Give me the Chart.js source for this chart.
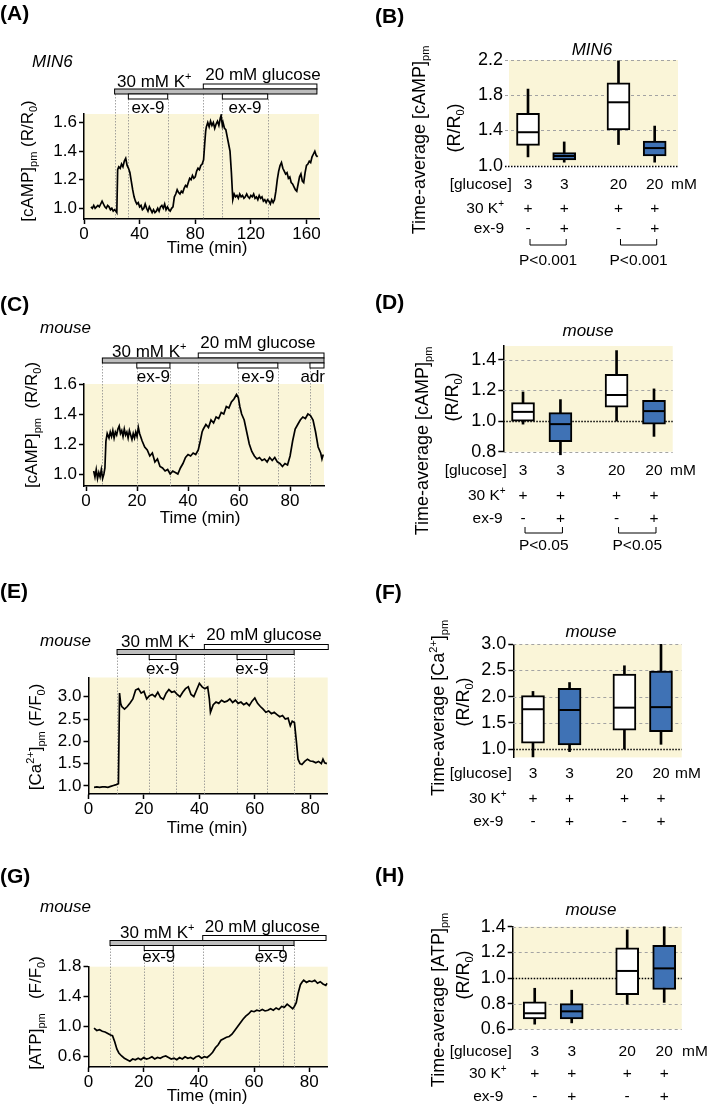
<!DOCTYPE html>
<html>
<head>
<meta charset="utf-8">
<script src="https://cdn.jsdelivr.net/npm/chart.js@4.4.1/dist/chart.umd.min.js"></script>
<style>
  html, body { margin: 0; padding: 0; background: #fff; }
  #wrap { position: relative; width: 709px; height: 1109px; overflow: hidden; }
  #wrap canvas { position: absolute; left: 0; top: 0; }
</style>
</head>
<body>
<div id="wrap">
  <canvas id="cA" width="709" height="1109"></canvas>
  <canvas id="cB" width="709" height="1109"></canvas>
  <canvas id="cC" width="709" height="1109"></canvas>
  <canvas id="cD" width="709" height="1109"></canvas>
  <canvas id="cE" width="709" height="1109"></canvas>
  <canvas id="cF" width="709" height="1109"></canvas>
  <canvas id="cG" width="709" height="1109"></canvas>
  <canvas id="cH" width="709" height="1109"></canvas>
</div>
<script>
// ---- traces: [time (min), value] ----
const traceA = [[5,1.01],[6,1.00],[7,1.02],[8,1.00],[9,1.01],[10,1.02],[11,1.01],[12,1.03],[13,1.05],[14,1.03],
  [15,1.01],[16,1.00],[17,1.02],[18,1.01],[19,0.99],[20,1.00],[21,0.98],[22,0.99],[23,0.98],[23.6,0.97],
  [24.2,1.27],[25,1.29],[26,1.28],[27,1.31],[28,1.29],[29,1.33],[30,1.35],[31,1.30],[32,1.28],[33,1.25],
  [34,1.19],[35,1.13],[36,1.08],[37,1.05],[38,1.03],[39,1.04],[40,1.01],[41,1.02],[42,0.99],[43,1.00],
  [44,1.03],[45,1.00],[46,0.98],[47,1.01],[48,0.99],[49,0.97],[50,0.99],[51,0.97],[52,0.98],[53,1.00],
  [54,0.98],[55,1.01],[56,1.02],[57,1.00],[58,1.03],[59,0.99],[60,1.01],[61,0.99],[62,0.98],[63,1.00],
  [64,1.01],[65,1.08],[66,1.10],[67,1.13],[68,1.11],[69,1.10],[70,1.12],[71,1.11],[72,1.14],[73,1.16],
  [74,1.15],[75,1.18],[76,1.21],[77,1.20],[78,1.23],[79,1.21],[80,1.22],[81,1.26],[82,1.28],[83,1.27],
  [84,1.30],[85,1.31],[86,1.34],[86.8,1.45],[87.5,1.54],[88,1.57],[89,1.60],[90,1.57],[91,1.61],[92,1.58],
  [93,1.60],[94,1.56],[95,1.59],[96,1.61],[97,1.58],[98,1.63],[98.6,1.65],[99.5,1.58],[100,1.60],[101,1.56],
  [102,1.55],[103,1.50],[104,1.45],[105,1.40],[106,1.25],[107,1.06],[108,1.10],[109,1.08],[110,1.09],[111,1.07],
  [112,1.10],[113,1.08],[114,1.09],[115,1.07],[116,1.08],[117,1.10],[118,1.08],[119,1.07],[120,1.09],[121,1.08],
  [122,1.10],[123,1.07],[124,1.08],[125,1.06],[126,1.09],[127,1.07],[128,1.08],[129,1.05],[130,1.06],[131,1.04],
  [132,1.06],[133,1.05],[134,1.03],[135,1.06],[136,1.04],[137,1.06],[138,1.12],[139,1.20],[140,1.26],[141,1.30],
  [142,1.32],[143,1.28],[144,1.26],[145,1.24],[146,1.25],[147,1.21],[148,1.22],[149,1.18],[150,1.17],[151,1.15],
  [152,1.13],[153,1.12],[154,1.17],[155,1.22],[156,1.24],[157,1.19],[158,1.18],[159,1.25],[160,1.30],[161,1.31],
  [162,1.33],[163,1.32],[164,1.36],[165,1.38],[166,1.40],[167,1.37],[168,1.36]];

const traceC = [[3,1.02],[3.5,0.98],[4,1.03],[4.5,0.97],[5,1.01],[5.5,0.98],[6,1.03],[6.5,0.97],[7,1.00],[7.4,1.04],
  [7.8,1.22],[8.3,1.27],[9,1.24],[9.5,1.28],[10,1.25],[10.5,1.29],[11,1.24],[11.5,1.28],[12,1.26],[12.5,1.30],
  [13,1.32],[13.5,1.27],[14,1.29],[14.5,1.25],[15,1.30],[15.5,1.26],[16,1.28],[16.5,1.24],[17,1.29],[17.5,1.26],
  [18,1.23],[18.5,1.27],[19,1.24],[19.5,1.28],[20,1.25],[20.5,1.31],[21,1.27],[22,1.22],[23,1.18],[24,1.16],
  [25,1.12],[26,1.14],[27,1.08],[28,1.10],[29,1.05],[30,1.04],[31,1.02],[32,1.03],[33,1.00],[34,1.02],
  [35,1.01],[36,1.00],[37,1.04],[38,1.07],[39,1.11],[40,1.13],[41,1.12],[42,1.14],[43,1.13],[44,1.16],
  [44.8,1.22],[45.5,1.28],[46,1.30],[47,1.33],[48,1.31],[49,1.36],[50,1.34],[51,1.38],[52,1.37],[53,1.41],
  [54,1.40],[55,1.45],[56,1.44],[57,1.48],[58,1.50],[59,1.53],[59.7,1.51],[60.3,1.45],[61,1.40],[62,1.36],
  [63,1.28],[64,1.20],[65,1.15],[66,1.12],[67,1.10],[68,1.11],[69,1.09],[70,1.10],[71,1.08],[72,1.11],
  [73,1.09],[74,1.11],[75,1.08],[76,1.07],[77,1.05],[78,1.07],[79,1.06],[80,1.12],[81,1.22],[82,1.30],
  [83,1.33],[84,1.36],[85,1.38],[86,1.37],[87,1.40],[88,1.39],[89,1.36],[90,1.28],[91,1.18],[92,1.14],
  [92.5,1.10],[93,1.13]];

const traceE = [[2,0.97],[3,0.98],[4,0.97],[5,0.98],[6,0.98],[7,0.97],[8,0.99],[9,1.01],[10,1.03],[10.8,1.05],
  [11.2,3.08],[11.6,2.85],[12,2.78],[13,2.72],[14,2.78],[15,2.86],[16,2.95],[17,3.15],[18,3.18],[19,3.08],
  [20,3.12],[21,2.95],[22,3.02],[23,3.05],[24,3.00],[25,3.10],[26,2.98],[27,2.94],[28,3.08],[29,3.16],
  [30,3.10],[31,3.12],[32,3.05],[33,3.00],[34,3.10],[35,3.18],[36,3.22],[37,3.05],[38,3.00],[39,3.15],
  [40,3.30],[41,3.22],[42,3.18],[43,3.22],[43.6,2.95],[44,2.65],[45,2.82],[46,2.88],[47,2.85],[48,2.92],
  [49,2.88],[50,2.90],[51,2.95],[52,2.87],[53,2.92],[54,2.85],[55,2.88],[56,2.82],[57,2.86],[58,2.80],
  [59,2.90],[60,2.97],[61,2.85],[62,2.78],[63,2.72],[64,2.65],[65,2.68],[66,2.62],[67,2.65],[68,2.60],
  [69,2.55],[70,2.58],[71,2.50],[72,2.52],[72.8,2.35],[73.5,2.45],[74.3,2.42],[75,2.00],[75.6,1.60],[76.3,1.50],
  [77,1.48],[78,1.55],[79,1.60],[80,1.56],[81,1.55],[82,1.52],[83,1.55],[84,1.50],[84.6,1.60],[85.2,1.52],
  [86,1.50]];

const traceG = [[2,0.98],[3,0.95],[4,0.96],[5,0.94],[6,0.93],[7,0.91],[8,0.89],[8.7,0.88],[9.5,0.80],[10.3,0.70],
  [11,0.65],[12,0.61],[13,0.58],[14,0.56],[15,0.54],[16,0.57],[17,0.56],[18,0.58],[19,0.56],[20,0.59],
  [21,0.57],[22,0.58],[23,0.60],[24,0.57],[25,0.59],[26,0.58],[27,0.60],[28,0.61],[29,0.59],[30,0.57],
  [31,0.58],[32,0.56],[33,0.59],[34,0.57],[35,0.60],[36,0.58],[37,0.59],[38,0.57],[39,0.60],[40,0.61],
  [41,0.58],[42,0.60],[43,0.59],[44,0.62],[45,0.66],[46,0.72],[47,0.76],[48,0.82],[49,0.84],[50,0.86],
  [51,0.87],[52,0.90],[53,0.95],[54,1.00],[55,1.05],[56,1.10],[57,1.14],[58,1.17],[59,1.21],[60,1.20],
  [61,1.22],[62,1.21],[63,1.23],[64,1.21],[65,1.22],[66,1.24],[67,1.22],[68,1.25],[69,1.23],[70,1.27],
  [71,1.26],[72,1.30],[73,1.27],[74,1.24],[74.6,1.27],[75.3,1.32],[76,1.45],[76.8,1.56],[77.5,1.60],[78,1.62],
  [79,1.59],[80,1.61],[81,1.60],[82,1.62],[83,1.58],[84,1.60],[85,1.57],[86,1.55],[86.5,1.58]];

// ---- stimulus periods (min) ----
const kA = [22, 167.5], glucA = [85.8, 167.5], ex9A = [[31.9, 60.2], [99.5, 132.1]];
const kC = [6.4, 93.3], glucC = [44.0, 93.3], ex9C = [[19.9, 32.9], [59.5, 75.2]], adrC = [87.8, 93.3];
const kE = [10.3, 74.2], glucE = [41.8, 86.5], ex9E = [[21.9, 31.6], [53.6, 64.3]];
const kG = [7.8, 74.5], glucG = [41.4, 86.1], ex9G = [[20.2, 30.7], [61.9, 70.6]];

// ---- box plots: whisker low, Q1, median, Q3, whisker high ----
const bLow = [1.10, 1.04, 1.24, 1.04], bQ1 = [1.23, 1.065, 1.405, 1.11], bMed = [1.38, 1.11, 1.72, 1.20];
const bQ3 = [1.595, 1.15, 1.94, 1.28], bHigh = [1.87, 1.27, 2.19, 1.45];
const dLow = [0.98, 0.78, 1.00, 0.90], dQ1 = [1.00, 0.865, 1.09, 0.98], dMed = [1.06, 0.98, 1.17, 1.065];
const dQ3 = [1.12, 1.055, 1.305, 1.135], dHigh = [1.19, 1.14, 1.46, 1.21];
const fLow = [0.85, 0.95, 1.00, 1.09], fQ1 = [1.11, 1.08, 1.36, 1.33], fMed = [1.76, 1.745, 1.79, 1.80];
const fQ3 = [2.02, 2.16, 2.43, 2.49], fHigh = [2.10, 2.27, 2.59, 3.00];
const hLow = [0.64, 0.65, 0.795, 0.81], hQ1 = [0.68, 0.68, 0.87, 0.91], hMed = [0.725, 0.74, 1.055, 1.075];
const hQ3 = [0.815, 0.80, 1.235, 1.255], hHigh = [0.92, 0.905, 1.375, 1.40];

const glucLabels = ['3', '3', '20', '20'];
const kLabels = ['+', '+', '+', '+'];
const exLabels = ['-', '+', '-', '+'];
const pB = ['P<0.001', 'P<0.001'];
const pD = ['P<0.05', 'P<0.05'];

// ---- tick labels ----
const xTicksA = [0, 40, 80, 120, 160], yTicksA = [1.0, 1.2, 1.4, 1.6];
const xTicksC = [0, 20, 40, 60, 80], yTicksC = [1.0, 1.2, 1.4, 1.6];
const xTicksE = [0, 20, 40, 60, 80], yTicksE = [1.0, 1.5, 2.0, 2.5, 3.0];
const xTicksG = [0, 20, 40, 60, 80], yTicksG = [0.6, 1.0, 1.4, 1.8];
const yTicksB = [1.0, 1.4, 1.8, 2.2], yTicksD = [0.8, 1.0, 1.2, 1.4];
const yTicksF = [1.0, 1.5, 2.0, 2.5, 3.0], yTicksH = [0.6, 0.8, 1.0, 1.2, 1.4];

// ---- text pieces (n = normal, sub, sup) ----
const titleCampA = [['[cAMP]', 'n'], ['pm', 'sub'], [' (R/R', 'n'], ['0', 'sub'], [')', 'n']];
const titleCampC = [['[cAMP]', 'n'], ['pm', 'sub'], ['  (R/R', 'n'], ['0', 'sub'], [')', 'n']];
const titleCa = [['[Ca', 'n'], ['2+', 'sup'], [']', 'n'], ['pm', 'sub'], [' (F/F', 'n'], ['0', 'sub'], [')', 'n']];
const titleAtp = [['[ATP]', 'n'], ['pm', 'sub'], ['   (F/F', 'n'], ['0', 'sub'], [')', 'n']];
const avgCamp = [['Time-average [cAMP]', 'n'], ['pm', 'sub']];
const avgCa = [['Time-average [Ca', 'n'], ['2+', 'sup'], [']', 'n'], ['pm', 'sub']];
const avgAtp = [['Time-average [ATP]', 'n'], ['pm', 'sub']];
const rr0 = [['(R/R', 'n'], ['0', 'sub'], [')', 'n']];
const kText = [['30 mM K', 'n'], ['+', 'sup']];
const kRowText = [['30 K', 'n'], ['+', 'sup']];

const FONT = '"Liberation Sans", Arial, Helvetica, sans-serif';
const YELLOW = '#FAF5D8';
const BLUE = '#3F72B5';
const GRAY = '#BDBDBD';
const boxPos = [1, 2, 3.5, 4.5];
const boxFill = ['#ffffff', BLUE, '#ffffff', BLUE];

function drawRich(ctx, parts, x, y, size, align, style) {
  style = style || '';
  const fontOf = k => style + (k === 'n' ? size : Math.round(size * 0.62)) + 'px ' + FONT;
  let w = 0;
  parts.forEach(p => { ctx.font = fontOf(p[1]); w += ctx.measureText(p[0]).width; });
  let cx = align === 'center' ? x - w / 2 : (align === 'right' ? x - w : x);
  ctx.textAlign = 'left';
  ctx.textBaseline = 'alphabetic';
  ctx.fillStyle = '#000';
  parts.forEach(p => {
    const dy = p[1] === 'sub' ? size * 0.22 : (p[1] === 'sup' ? -size * 0.4 : 0);
    ctx.font = fontOf(p[1]);
    ctx.fillText(p[0], cx, y + dy);
    cx += ctx.measureText(p[0]).width;
  });
}

function drawUp(ctx, parts, x, y, size) {
  ctx.save();
  ctx.translate(x, y);
  ctx.rotate(-Math.PI / 2);
  drawRich(ctx, parts, 0, size * 0.35, size, 'center');
  ctx.restore();
}

const bgPlugin = {
  id: 'bg',
  beforeDraw(chart) {
    const a = chart.chartArea, ctx = chart.ctx;
    ctx.save();
    ctx.fillStyle = YELLOW;
    ctx.fillRect(a.left, a.top, a.right - a.left, a.bottom - a.top);
    ctx.restore();
  }
};

// bars above the traces, dotted markers, labels
function stimDeco(c) {
  return {
    id: 'stim',
    beforeDatasetsDraw(chart) {
      const ctx = chart.ctx, xs = chart.scales.x, bottom = chart.chartArea.bottom;
      const marks = [[c.k[0], c.kTop + c.h], [c.gluc[0], c.kTop + c.h]];
      if (c.k[1] < xs.max - 2) marks.push([c.k[1], c.kTop + c.h]);
      c.ex9.forEach(r => { marks.push([r[0], c.eTop + c.h]); marks.push([r[1], c.eTop + c.h]); });
      if (c.adr) marks.push([c.adr[0], c.eTop + c.h]);
      ctx.save();
      ctx.strokeStyle = '#8c8c8c';
      ctx.lineWidth = 0.8;
      ctx.setLineDash([1.5, 1.5]);
      marks.forEach(m => {
        const x = Math.round(xs.getPixelForValue(m[0])) + 0.5;
        ctx.beginPath(); ctx.moveTo(x, m[1]); ctx.lineTo(x, bottom); ctx.stroke();
      });
      ctx.restore();
    },
    afterDraw(chart) {
      const ctx = chart.ctx, xs = chart.scales.x;
      const px = v => xs.getPixelForValue(v);
      const bar = (r, top, fill) => {
        ctx.fillStyle = fill;
        ctx.fillRect(px(r[0]), top, px(r[1]) - px(r[0]), c.h);
        ctx.strokeRect(px(r[0]), top, px(r[1]) - px(r[0]), c.h);
      };
      ctx.save();
      ctx.strokeStyle = '#000';
      ctx.lineWidth = 1;
      bar(c.gluc, c.gTop, '#fff');
      bar(c.k, c.kTop, GRAY);
      c.ex9.forEach(r => bar(r, c.eTop, '#fff'));
      if (c.adr) bar(c.adr, c.eTop, '#fff');
      drawRich(ctx, kText, c.kText[0], c.kText[1], 17, 'left');
      drawRich(ctx, [['20 mM glucose', 'n']], px(c.gluc[0]) + 2, c.gTextY, 17, 'left');
      c.ex9.forEach(r => drawRich(ctx, [['ex-9', 'n']], (px(r[0]) + px(r[1])) / 2, c.exTextY, 17, 'center'));
      if (c.adr) drawRich(ctx, [['adr', 'n']], chart.chartArea.right + 1, c.exTextY, 17, 'right');
      drawRich(ctx, [[c.label[0], 'n']], c.label[1], c.label[2], 21, 'left', 'bold ');
      drawRich(ctx, [[c.species[0], 'n']], c.species[1], c.species[2], 17, 'left', 'italic ');
      drawUp(ctx, c.yTitle[0], c.yTitle[1], c.yTitle[2], 17);
      drawRich(ctx, [['Time (min)', 'n']], c.xTitle[0], c.xTitle[1], 17, 'center');
      ctx.restore();
    }
  };
}

function makeTrace(id, c) {
  return new Chart(document.getElementById(id), {
    type: 'line',
    data: {
      datasets: [{
        data: c.trace.map(p => ({ x: p[0], y: p[1] })),
        borderColor: '#000',
        borderWidth: 1.7,
        pointRadius: 0,
        tension: 0
      }]
    },
    options: {
      responsive: false,
      animation: false,
      devicePixelRatio: 1,
      layout: { padding: { left: c.area[0] - 40, right: 709 - c.area[1], top: c.area[2], bottom: 1109 - c.area[3] - 30 } },
      plugins: { legend: { display: false }, tooltip: { enabled: false } },
      scales: {
        x: {
          type: 'linear', min: c.xr[0], max: c.xr[1], offset: false,
          afterFit: s => { s.height = 30; },
          afterBuildTicks: s => { s.ticks = c.xt.map(v => ({ value: v })); },
          grid: { display: true, drawOnChartArea: false, drawTicks: true, tickLength: 5, tickColor: '#000', tickWidth: 1.5 },
          border: { display: true, color: '#000', width: 1.5 },
          ticks: { color: '#000', font: { family: FONT, size: 17 }, padding: 0, maxRotation: 0, autoSkip: false,
            callback: v => String(v) }
        },
        y: {
          min: c.yr[0], max: c.yr[1],
          afterFit: s => { s.width = 40; },
          afterBuildTicks: s => { s.ticks = c.yt.map(v => ({ value: v })); },
          grid: { display: true, drawOnChartArea: false, drawTicks: true, tickLength: 5, tickColor: '#000', tickWidth: 1.5 },
          border: { display: true, color: '#000', width: 1.5 },
          ticks: { color: '#000', font: { family: FONT, size: 17 }, padding: 2, callback: v => v.toFixed(1) }
        }
      }
    },
    plugins: [bgPlugin, stimDeco(c)]
  });
}

// grid lines, medians, condition rows
function boxDeco(c) {
  return {
    id: 'boxdeco',
    beforeDatasetsDraw(chart) {
      const ctx = chart.ctx, ys = chart.scales.y, a = chart.chartArea;
      ctx.save();
      c.yt.forEach(v => {
        const y = Math.round(ys.getPixelForValue(v)) + 0.5;
        if (Math.abs(v - 1) < 1e-6) {
          ctx.strokeStyle = '#000'; ctx.lineWidth = 1.5; ctx.setLineDash([1.5, 1.5]);
        } else {
          ctx.strokeStyle = '#a3a3a3'; ctx.lineWidth = 1; ctx.setLineDash([3, 3]);
        }
        ctx.beginPath();
        ctx.moveTo(a.left - (c.axisLine ? 0 : 4), y);
        ctx.lineTo(a.right, y);
        ctx.stroke();
      });
      ctx.restore();
    },
    afterDatasetsDraw(chart) {
      const ctx = chart.ctx, xs = chart.scales.x, ys = chart.scales.y;
      ctx.save();
      ctx.strokeStyle = '#000';
      ctx.lineWidth = 2;
      boxPos.forEach((p, i) => {
        const x = xs.getPixelForValue(p), y = ys.getPixelForValue(c.med[i]);
        ctx.beginPath(); ctx.moveTo(x - 10.5, y); ctx.lineTo(x + 10.5, y); ctx.stroke();
      });
      ctx.restore();
    },
    afterDraw(chart) {
      const ctx = chart.ctx, xs = chart.scales.x;
      const cols = boxPos.map(p => xs.getPixelForValue(p));
      ctx.save();
      drawRich(ctx, [['[glucose]', 'n']], c.rowX[0], c.rowY[0], 15.5, 'right');
      drawRich(ctx, kRowText, c.rowX[1], c.rowY[1], 15.5, 'right');
      drawRich(ctx, [['ex-9', 'n']], c.rowX[2], c.rowY[2], 15.5, 'right');
      cols.forEach((x, i) => {
        drawRich(ctx, [[glucLabels[i], 'n']], x, c.rowY[0], 15.5, 'center');
        drawRich(ctx, [[kLabels[i], 'n']], x, c.rowY[1], 15.5, 'center');
        drawRich(ctx, [[exLabels[i], 'n']], x, c.rowY[2], 15.5, 'center');
      });
      drawRich(ctx, [['mM', 'n']], c.mmX, c.rowY[0], 15.5, 'left');
      if (c.p) {
        ctx.strokeStyle = '#000';
        ctx.lineWidth = 1;
        [[0, 1], [2, 3]].forEach((pair, j) => {
          const x0 = cols[pair[0]] + 2, x1 = cols[pair[1]] + 2;
          ctx.beginPath();
          ctx.moveTo(x0, c.bracket[0]); ctx.lineTo(x0, c.bracket[1]);
          ctx.lineTo(x1, c.bracket[1]); ctx.lineTo(x1, c.bracket[0]);
          ctx.stroke();
          drawRich(ctx, [[c.p[j], 'n']], (x0 + x1) / 2, c.pY, 15.5, 'center');
        });
      }
      drawRich(ctx, [[c.label[0], 'n']], c.label[1], c.label[2], 21, 'left', 'bold ');
      drawRich(ctx, [[c.title[0], 'n']], c.title[1], c.title[2], 17, 'center', 'italic ');
      drawUp(ctx, c.yTitle1[0], c.yTitle1[1], c.yTitle1[2], 18);
      drawUp(ctx, rr0, c.yTitle2[0], c.yTitle2[1], 18);
      ctx.restore();
    }
  };
}

function makeBox(id, c) {
  return new Chart(document.getElementById(id), {
    type: 'bar',
    data: {
      datasets: [{
        data: boxPos.map((p, i) => ({ x: p, y: [c.q1[i], c.q3[i]] })),
        backgroundColor: boxFill,
        borderColor: '#000',
        borderWidth: 2,
        borderSkipped: false,
        barThickness: 23,
        grouped: false,
        order: 1,
        clip: false
      }, {
        data: boxPos.map((p, i) => ({ x: p, y: [c.lo[i], c.hi[i]] })),
        backgroundColor: '#000',
        borderWidth: 0,
        barThickness: 2,
        grouped: false,
        order: 2,
        clip: false
      }]
    },
    options: {
      responsive: false,
      animation: false,
      devicePixelRatio: 1,
      layout: { padding: { left: c.area[0] - 45, right: 709 - c.area[1], top: c.area[2], bottom: 1109 - c.area[3] } },
      plugins: { legend: { display: false }, tooltip: { enabled: false } },
      scales: {
        x: { type: 'linear', display: false, offset: false, min: c.xr[0], max: c.xr[1], grid: { offset: false } },
        y: {
          min: c.yr[0], max: c.yr[1],
          afterFit: s => { s.width = 45; },
          afterBuildTicks: s => { s.ticks = c.yt.map(v => ({ value: v })); },
          grid: { display: c.axisLine, drawOnChartArea: false, drawTicks: c.axisLine, tickLength: 5, tickColor: '#000', tickWidth: 1.5 },
          border: { display: c.axisLine, color: '#000', width: 1.5 },
          ticks: { color: '#000', font: { family: FONT, size: 18 }, padding: c.axisLine ? 2 : 6, callback: v => v.toFixed(1) }
        }
      }
    },
    plugins: [bgPlugin, boxDeco(c)]
  });
}

makeTrace('cA', {
  trace: traceA, k: kA, gluc: glucA, ex9: ex9A, adr: null,
  area: [84, 319, 114, 219], xr: [0, 169], yr: [0.925, 1.66], xt: xTicksA, yt: yTicksA,
  gTop: 84, kTop: 89, eTop: 94, h: 5, kText: [117, 87], gTextY: 80, exTextY: 113,
  label: ['(A)', 0, 20], species: ['MIN6', 32, 67], yTitle: [titleCampA, 27, 161], xTitle: [207, 253]
});
makeTrace('cC', {
  trace: traceC, k: kC, gluc: glucC, ex9: ex9C, adr: adrC,
  area: [84, 324, 384, 486], xr: [-0.8, 93.3], yr: [0.92, 1.6], xt: xTicksC, yt: yTicksC,
  gTop: 353, kTop: 358, eTop: 363, h: 5, kText: [112, 356.5], gTextY: 348, exTextY: 382,
  label: ['(C)', 0, 311], species: ['mouse', 40, 333], yTitle: [titleCampC, 31, 425], xTitle: [200, 523]
});
makeTrace('cE', {
  trace: traceE, k: kE, gluc: glucE, ex9: ex9E, adr: null,
  area: [88.5, 327.7, 677.5, 794], xr: [0, 86.3], yr: [0.82, 3.43], xt: xTicksE, yt: yTicksE,
  gTop: 644.5, kTop: 649.5, eTop: 654.5, h: 5, kText: [121, 647], gTextY: 640, exTextY: 674,
  label: ['(E)', 0, 598], species: ['mouse', 40, 646], yTitle: [titleCa, 35, 737], xTitle: [207, 833]
});
makeTrace('cG', {
  trace: traceG, k: kG, gluc: glucG, ex9: ex9G, adr: null,
  area: [88.5, 327.7, 966.7, 1067], xr: [0, 86.7], yr: [0.463, 1.8], xt: xTicksG, yt: yTicksG,
  gTop: 935.5, kTop: 940.5, eTop: 945.5, h: 5, kText: [120, 938], gTextY: 932, exTextY: 962,
  label: ['(G)', 0, 883], species: ['mouse', 40, 912], yTitle: [titleAtp, 35, 1013], xTitle: [207, 1101]
});

makeBox('cB', {
  lo: bLow, q1: bQ1, med: bMed, q3: bQ3, hi: bHigh, axisLine: false,
  area: [509, 678, 60, 165.7], xr: [0.475, 5.144], yr: [1.0, 2.2], yt: yTicksB,
  label: ['(B)', 375, 23], title: ['MIN6', 592, 55],
  yTitle1: [avgCamp, 419, 140], yTitle2: [454, 128],
  rowY: [189, 213, 233], rowX: [511.7, 504, 504], mmX: 671, p: pB, bracket: [239, 245], pY: 265
});
makeBox('cD', {
  lo: dLow, q1: dQ1, med: dMed, q3: dQ3, hi: dHigh, axisLine: true,
  area: [503.3, 672.7, 346, 451.7], xr: [0.473, 5.0], yr: [0.8, 1.49], yt: yTicksD,
  label: ['(D)', 375, 309], title: ['mouse', 588, 336],
  yTitle1: [avgCamp, 422, 441], yTitle2: [452, 397],
  rowY: [475, 500, 523], rowX: [506.7, 505.7, 502.7], mmX: 670, p: pD, bracket: [527, 533], pY: 550
});
makeBox('cF', {
  lo: fLow, q1: fQ1, med: fMed, q3: fQ3, hi: fHigh, axisLine: true,
  area: [513.3, 681.7, 644.3, 757.4], xr: [0.462, 5.066], yr: [0.84, 3.0], yt: yTicksF,
  label: ['(F)', 375, 599], title: ['mouse', 591, 637],
  yTitle1: [avgCa, 438, 708], yTitle2: [463, 702],
  rowY: [778, 803, 826], rowX: [511.7, 506.7, 503.3], mmX: 675, p: null
});
makeBox('cH', {
  lo: hLow, q1: hQ1, med: hMed, q3: hQ3, hi: hHigh, axisLine: true,
  area: [512.7, 681.7, 926.7, 1029.3], xr: [0.405, 4.973], yr: [0.6, 1.4], yt: yTicksH,
  label: ['(H)', 375, 882], title: ['mouse', 591, 915],
  yTitle1: [avgAtp, 438, 1000], yTitle2: [463, 975],
  rowY: [1056, 1078, 1101], rowX: [511.7, 506.7, 503.3], mmX: 682, p: null
});
</script>
</body>
</html>
